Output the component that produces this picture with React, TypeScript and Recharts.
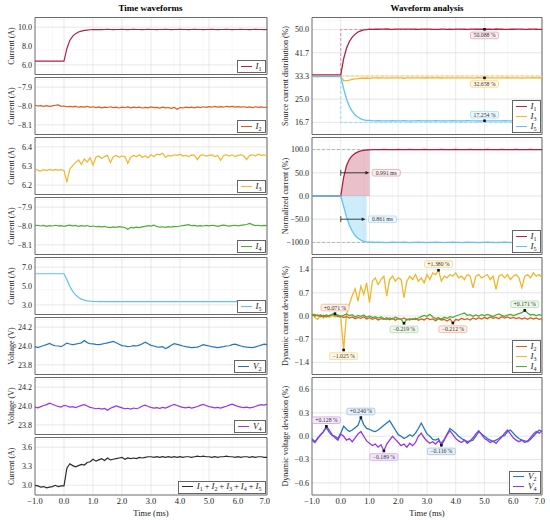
import React from 'react'
import { ComposedChart, Line, Area, XAxis, YAxis, CartesianGrid, ReferenceArea, ReferenceLine, ReferenceDot } from 'recharts'

const FONT = '"Liberation Serif", "DejaVu Serif", serif'

// sample times in ms, every 0.1 ms from -1.0 to 7.0
const TIME = Array.from({ length: 81 }, (_, i) => (i - 10) / 10)

// measured currents (A)
const I1 = [
  6.40, 6.40, 6.40, 6.40, 6.40, 6.40, 6.40, 6.40, 6.40, 6.40, 6.40,
  7.74, 8.58, 9.05, 9.31, 9.48, 9.58, 9.65, 9.69, 9.72, 9.73,
  9.74, 9.75, 9.74, 9.75, 9.76, 9.75, 9.74, 9.75, 9.75, 9.76,
  9.75, 9.74, 9.75, 9.76, 9.75, 9.75, 9.74, 9.75, 9.76, 9.75,
  9.75, 9.74, 9.75, 9.75, 9.76, 9.75, 9.74, 9.75, 9.75, 9.76,
  9.75, 9.75, 9.74, 9.75, 9.76, 9.75, 9.75, 9.74, 9.75, 9.75,
  9.76, 9.75, 9.74, 9.75, 9.75, 9.76, 9.75, 9.74, 9.75, 9.75,
  9.76, 9.75, 9.75, 9.74, 9.75, 9.76, 9.75, 9.75, 9.74, 9.75,
]
const I5 = [
  6.30, 6.30, 6.30, 6.30, 6.30, 6.30, 6.30, 6.30, 6.30, 6.30, 6.30,
  5.65, 4.97, 4.44, 4.06, 3.79, 3.61, 3.50, 3.42, 3.39, 3.37,
  3.36, 3.35, 3.36, 3.35, 3.35, 3.34, 3.35, 3.36, 3.35, 3.35,
  3.35, 3.36, 3.35, 3.34, 3.35, 3.35, 3.36, 3.35, 3.35, 3.34,
  3.35, 3.35, 3.36, 3.35, 3.35, 3.34, 3.35, 3.35, 3.36, 3.35,
  3.35, 3.34, 3.35, 3.36, 3.35, 3.35, 3.35, 3.34, 3.35, 3.35,
  3.36, 3.35, 3.35, 3.34, 3.35, 3.35, 3.36, 3.35, 3.35, 3.35,
  3.34, 3.35, 3.36, 3.35, 3.35, 3.35, 3.34, 3.35, 3.35, 3.36,
]
const ISUM = [
  3.00, 2.99, 2.97, 2.98, 2.96, 2.97, 2.98, 3.00, 2.98, 2.99, 2.99,
  3.27, 3.34, 3.31, 3.29, 3.31, 3.33, 3.32, 3.36, 3.37, 3.41,
  3.38, 3.40, 3.42, 3.39, 3.43, 3.40, 3.41, 3.42, 3.43, 3.44,
  3.41, 3.43, 3.42, 3.43, 3.42, 3.44, 3.43, 3.44, 3.45, 3.45,
  3.44, 3.45, 3.44, 3.45, 3.44, 3.45, 3.44, 3.45, 3.44, 3.45,
  3.44, 3.45, 3.45, 3.44, 3.45, 3.46, 3.45, 3.46, 3.45, 3.45,
  3.44, 3.45, 3.44, 3.45, 3.45, 3.46, 3.45, 3.45, 3.44, 3.45,
  3.44, 3.45, 3.45, 3.44, 3.45, 3.44, 3.45, 3.45, 3.44, 3.44,
]

// dynamic deviations (%) from the pre-step value
const D2 = [
  0.05, 0.00, 0.03, -0.02, 0.02, -0.03, 0.01, 0.05, 0.071, -0.02, 0.00,
  -0.05, -0.02, -0.06, -0.03, -0.08, -0.04, -0.07, -0.02, -0.09, -0.05,
  -0.10, -0.06, -0.12, -0.08, -0.10, -0.05, -0.11, -0.07, -0.13, -0.08,
  -0.10, -0.06, -0.12, -0.08, -0.11, -0.07, -0.13, -0.09, -0.12, -0.06,
  -0.11, -0.09, -0.14, -0.08, -0.12, -0.10, -0.15, -0.09, -0.212, -0.10,
  -0.13, -0.07, -0.11, -0.08, -0.12, -0.06, -0.10, -0.05, -0.09, -0.04,
  -0.08, -0.03, -0.07, -0.04, -0.08, -0.02, -0.06, -0.03, -0.07, -0.04,
  -0.08, -0.05, -0.09, -0.06, -0.10, -0.05, -0.09, -0.06, -0.10, -0.08,
]
const D3 = [
  0.12, -0.05, -0.10, 0.02, -0.06, 0.03, -0.04, 0.02, -0.03, 0.01, -0.05,
  -1.025, 0.05, 0.35, 0.62, 0.82, 0.45, 0.90, 0.65, 1.00, 0.40,
  1.05, 1.15, 0.95, 1.10, 1.20, 0.60, 1.10, 1.20, 1.05, 1.15,
  1.10, 0.55, 1.05, 1.20, 1.10, 1.25, 1.05, 1.15, 1.00, 1.25,
  1.10, 1.30, 1.25, 1.38, 1.05, 1.20, 1.15, 1.25, 1.20, 1.30,
  1.15, 1.20, 1.10, 1.25, 1.20, 0.85, 1.20, 1.25, 1.15, 1.20,
  1.25, 1.10, 1.20, 0.80, 1.20, 1.25, 1.15, 1.25, 1.10, 1.20,
  1.25, 1.15, 0.85, 1.20, 1.25, 1.15, 1.30, 1.20, 1.25, 1.15,
]
const D4 = [
  0.02, 0.05, 0.00, 0.04, -0.02, 0.03, 0.00, 0.05, 0.01, 0.03, -0.02,
  0.02, 0.06, 0.01, 0.04, -0.03, 0.02, -0.01, 0.03, -0.04, 0.00,
  -0.05, -0.02, -0.06, -0.03, -0.08, -0.11, -0.06, -0.09, -0.04, -0.07,
  -0.10, -0.219, -0.09, -0.12, -0.08, -0.11, -0.06, -0.02, 0.02, -0.01,
  0.05, -0.03, -0.08, -0.05, -0.09, -0.04, -0.07, -0.02, -0.05, 0.00,
  0.03, 0.06, 0.09, 0.02, 0.04, -0.01, 0.03, 0.00, 0.04, 0.01,
  0.05, 0.02, -0.02, 0.03, 0.06, 0.02, -0.01, 0.03, 0.05, 0.01,
  0.04, 0.07, 0.10, 0.171, 0.09, 0.03, 0.05, 0.01, 0.04, 0.02,
]
const DV2 = [
  -0.03, -0.07, -0.02, 0.02, 0.06, 0.11, 0.05, 0.01, 0.00, -0.03, 0.04,
  0.13, 0.09, 0.06, 0.08, 0.11, 0.14, 0.240, 0.15, 0.10, 0.09,
  0.07, 0.06, 0.08, 0.11, 0.14, 0.17, 0.20, 0.14, 0.08, 0.02,
  0.00, -0.03, -0.01, 0.02, 0.00, 0.04, 0.10, 0.17, 0.10, 0.03,
  0.00, -0.04, -0.05, -0.03, -0.116, -0.05, 0.03, 0.10, 0.07, 0.04,
  0.00, -0.03, -0.05, -0.07, -0.06, -0.05, 0.00, 0.06, 0.03, 0.00,
  -0.03, -0.05, -0.07, -0.05, -0.03, 0.00, 0.01, 0.06, 0.08, 0.04,
  0.00, -0.03, -0.05, -0.06, -0.07, -0.04, 0.00, 0.04, 0.08, 0.06,
]
const DV4 = [
  -0.05, -0.08, -0.03, 0.02, 0.06, 0.128, 0.08, 0.02, -0.02, -0.05, 0.03,
  0.00, -0.05, -0.03, -0.07, -0.02, 0.03, 0.06, 0.00, -0.06, -0.09,
  -0.12, -0.10, -0.14, -0.11, -0.189, -0.10, -0.05, 0.00, -0.04, -0.08,
  -0.12, -0.10, -0.14, -0.09, -0.12, -0.08, 0.00, 0.04, -0.02, -0.06,
  -0.09, -0.07, -0.10, -0.06, -0.09, -0.04, 0.02, 0.07, 0.02, -0.03,
  -0.06, -0.08, -0.05, -0.09, -0.06, -0.02, 0.03, 0.07, 0.02, -0.03,
  -0.05, -0.08, -0.06, -0.09, -0.05, -0.01, 0.04, 0.08, 0.03, -0.02,
  -0.05, -0.07, -0.05, -0.08, -0.06, -0.02, 0.03, 0.06, 0.04, 0.07,
]

// reference levels
const I1_PRE = 6.40
const I1_POST = 9.75
const I5_PRE = 6.30
const I5_POST = 3.35
const I2_REF = -8.0
const I3_REF = 6.28
const I4_REF = -8.0
const V_REF = 24.0

// ideal source-sharing steps (%)
const IDEAL_T = [0, 0, 7]
const IDEAL_I1 = [33.333, 50, 50]
const IDEAL_I3 = [33.333, 33.333, 33.333]
const IDEAL_I5 = [33.333, 16.667, 16.667]

// annotated values
const SHARE_T = 5.0
const SHARE_VALUES = [50.088, 32.658, 17.254]
const SETTLE_I1 = 0.991
const SETTLE_I5 = 0.861
const CUR_MARKS = [
  { t: -0.2, v: 0.071, s: 'i2' },
  { t: 0.1, v: -1.025, s: 'i3' },
  { t: 3.4, v: 1.38, s: 'i3' },
  { t: 2.2, v: -0.219, s: 'i4' },
  { t: 3.9, v: -0.212, s: 'i2' },
  { t: 6.4, v: 0.171, s: 'i4' },
]
const VOLT_MARKS = [
  { t: -0.5, v: 0.128, s: 'v4' },
  { t: 0.7, v: 0.24, s: 'v2' },
  { t: 1.5, v: -0.189, s: 'v4' },
  { t: 3.5, v: -0.116, s: 'v2' },
]

const X_TICKS = [-1, 0, 1, 2, 3, 4, 5, 6, 7]
const X_MINOR = Array.from({ length: 41 }, (_, i) => -1 + i * 0.2)

const COLORS: any = {
  i1: '#b2213f', i2: '#e2581e', i3: '#f1b62a', i4: '#4cae35', i5: '#5ec3f2',
  v2: '#1f77c4', v4: '#9a33e6', sum: '#2b2b2b',
}
const TINT: any = {
  i1: '#fbeef0', i2: '#fdf0e9', i3: '#fff8e6', i4: '#eef8eb', i5: '#eaf7fd', v2: '#e8f1fa', v4: '#f5eafd',
}
const EDGE: any = {
  i1: '#e49aa8', i2: '#f2aa85', i3: '#f6d27a', i4: '#a5d898', i5: '#9ad9f5', v2: '#8dbde6', v4: '#cb95f0',
}

const ROWS = TIME.map((t, i) => {
  const i3 = I3_REF * (1 + D3[i] / 100)
  const total = I1[i] + i3 + I5[i]
  return {
    t,
    i1: I1[i],
    i2: I2_REF + Math.abs(I2_REF) * D2[i] / 100,
    i3,
    i4: I4_REF + Math.abs(I4_REF) * D4[i] / 100,
    i5: I5[i],
    v2: V_REF * (1 + DV2[i] / 100),
    v4: V_REF * (1 + DV4[i] / 100),
    sum: ISUM[i],
    s1: (I1[i] / total) * 100,
    s3: (i3 / total) * 100,
    s5: (I5[i] / total) * 100,
    n1: ((I1[i] - I1_PRE) / (I1_POST - I1_PRE)) * 100,
    n5: ((I5[i] - I5_PRE) / (I5_PRE - I5_POST)) * 100,
    d2: D2[i], d3: D3[i], d4: D4[i], dv2: DV2[i], dv4: DV4[i],
  }
})
const idealRows = (vals: number[]) => IDEAL_T.map((t, i) => ({ t, v: vals[i] }))
const FILL_I1 = ROWS.filter(r => r.t >= 0 && r.t <= 1.0)
const FILL_I5 = ROWS.filter(r => r.t >= 0 && r.t <= 0.9)

const fmt = (v: number) => (v < -1e-9 ? '\u2212' : '') + Math.abs(v).toFixed(1)
const pct = (v: number) => (v > 0 ? '+' : '\u2212') + Math.abs(v).toFixed(3) + '\u2009%'

function Ann({ cx, cy, text, s, below }: any) {
  const w = text.length * 3.0 + 4
  const h = 6.6
  const by = below ? cy + 2.8 : cy - 2.8 - h
  return (
    <g>
      <rect x={cx - 1.3} y={cy - 1.3} width={2.6} height={2.6} fill="#111" />
      <rect x={cx - w / 2} y={by} width={w} height={h} rx={1.5} fill={TINT[s]} stroke={EDGE[s]} strokeWidth={0.7} />
      <text x={cx} y={by + h / 2 + 2} textAnchor="middle" fontSize={5.8} fill="#333" fontFamily={FONT}>{text}</text>
    </g>
  )
}

function arrowShape(text: string, s: string) {
  return (p: any) => {
    const { x1, y1, x2 } = p
    const bw = text.length * 3.0 + 4
    const bh = 6.6
    return (
      <g>
        <line x1={x1} y1={y1 - 3} x2={x1} y2={y1 + 3} stroke="#222" strokeWidth={0.8} />
        <line x1={x1} y1={y1} x2={x2 - 3} y2={y1} stroke="#222" strokeWidth={0.8} />
        <polygon points={`${x2},${y1} ${x2 - 3.8},${y1 - 1.7} ${x2 - 3.8},${y1 + 1.7}`} fill="#222" />
        <rect x={x2 + 3} y={y1 - bh / 2} width={bw} height={bh} rx={1.5} fill={TINT[s]} stroke={EDGE[s]} strokeWidth={0.7} />
        <text x={x2 + 3 + bw / 2} y={y1 + 2} textAnchor="middle" fontSize={5.8} fill="#333" fontFamily={FONT}>{text}</text>
      </g>
    )
  }
}

function Sym({ label }: { label: string }) {
  const parts = label.split(/([A-Z]\d)/).filter(Boolean)
  return (
    <span>
      {parts.map((p, k) =>
        /^[A-Z]\d$/.test(p) ? (
          <span key={k}>
            <i>{p[0]}</i>
            <span style={{ fontSize: 6, position: 'relative', top: 2 }}>{p[1]}</span>
          </span>
        ) : (
          <span key={k}>{p.replace(/\+/g, '\u2009+\u2009')}</span>
        ),
      )}
    </span>
  )
}

function LegendBox({ items, right, bottom }: any) {
  return (
    <div style={{ position: 'absolute', right, bottom, background: '#fff', border: '1px solid #666', padding: '0px 3px 1px', fontFamily: FONT }}>
      {items.map((it: any) => (
        <div key={it.label} style={{ display: 'flex', alignItems: 'center', height: 10 }}>
          <span style={{ display: 'inline-block', width: 11, borderTop: `1.8px solid ${it.color}`, marginRight: 4 }} />
          <span style={{ fontSize: 9, lineHeight: '10px', whiteSpace: 'nowrap', color: '#222' }}>
            <Sym label={it.label} />
          </span>
        </div>
      ))}
    </div>
  )
}

function Panel({ left, top, height, axisW, labelOffset, domain, ticks, label, showX, legend, children }: any) {
  const W = 270
  const R = 3
  const xh = showX ? 26 : 0
  const step = (ticks[1] - ticks[0]) / 5
  const minorY: number[] = []
  for (let k = -10; k <= (ticks.length - 1) * 5 + 10; k++) {
    const v = ticks[0] + k * step
    if (v > domain[0] && v < domain[1]) minorY.push(v)
  }
  const H = height + 1 + (showX ? xh : 1)
  return (
    <div style={{ position: 'absolute', left, top: top - 1, width: W, height: H }}>
      <ComposedChart width={W} height={H} data={ROWS} margin={{ top: 0.5, right: R, bottom: showX ? 0 : 1.5, left: 0 }}>
        <CartesianGrid verticalValues={X_MINOR} horizontalValues={minorY} stroke="#f0f0f0" strokeWidth={0.5} />
        <CartesianGrid verticalValues={X_TICKS} horizontalValues={ticks} stroke="#dadada" strokeWidth={0.6} />
        <XAxis
          type="number" dataKey="t" domain={[-1, 7]} ticks={X_TICKS} hide={!showX} height={xh}
          tickFormatter={fmt} tickLine={false} axisLine={false} tickSize={0} tickMargin={3}
          tick={{ fontSize: 8.5, fill: '#222' }}
          label={{ value: 'Time (ms)', position: 'insideBottom', offset: 5, style: { fontSize: 8.5, fill: '#222' } }}
        />
        <YAxis
          type="number" domain={domain} ticks={ticks} width={axisW} allowDataOverflow
          tickFormatter={fmt} tickLine={false} axisLine={false} tickSize={0} tickMargin={3}
          tick={{ fontSize: 8, fill: '#222' }}
          label={{ value: label, angle: -90, position: 'insideLeft', offset: labelOffset, style: { textAnchor: 'middle', fontSize: 8, fill: '#222' } }}
        />
        {children}
        <ReferenceArea x1={-1} x2={7} y1={domain[0]} y2={domain[1]} fill="none" stroke="#6a6a6a" strokeWidth={1} />
      </ComposedChart>
      {legend && <LegendBox items={legend} right={R + 1.5} bottom={(showX ? xh : 1.5) + 1.5} />}
    </div>
  )
}

const line = (key: string, color: string, w = 1.2) => (
  <Line key={key} dataKey={key} stroke={color} strokeWidth={w} dot={false} activeDot={false} isAnimationActive={false} />
)

const LEFT = { left: 0, axisW: 35, labelOffset: 11, height: 57 }
const RIGHT = { left: 275, axisW: 37, labelOffset: 10, height: 117 }

export default function App() {
  return (
    <div style={{ position: 'fixed', left: 0, top: 0, width: 550, height: 520, background: '#fff', fontFamily: FONT, overflow: 'hidden' }}>
      <div style={{ position: 'absolute', left: 35, width: 231, top: 3, textAlign: 'center', fontWeight: 'bold', fontSize: 9 }}>Time waveforms</div>
      <div style={{ position: 'absolute', left: 312, width: 230, top: 3, textAlign: 'center', fontWeight: 'bold', fontSize: 9 }}>Waveform analysis</div>

      <Panel {...LEFT} top={18} domain={[4.98, 11.02]} ticks={[6, 8, 10]} label="Current (A)" legend={[{ label: 'I1', color: COLORS.i1 }]}>
        {line('i1', COLORS.i1)}
      </Panel>
      <Panel {...LEFT} top={78} domain={[-8.151, -7.849]} ticks={[-8.1, -8.0, -7.9]} label="Current (A)" legend={[{ label: 'I2', color: COLORS.i2 }]}>
        {line('i2', COLORS.i2)}
      </Panel>
      <Panel {...LEFT} top={138} domain={[6.151, 6.449]} ticks={[6.2, 6.3, 6.4]} label="Current (A)" legend={[{ label: 'I3', color: COLORS.i3 }]}>
        {line('i3', COLORS.i3)}
      </Panel>
      <Panel {...LEFT} top={198} domain={[-8.151, -7.849]} ticks={[-8.1, -8.0, -7.9]} label="Current (A)" legend={[{ label: 'I4', color: COLORS.i4 }]}>
        {line('i4', COLORS.i4)}
      </Panel>
      <Panel {...LEFT} top={258} domain={[1.98, 8.02]} ticks={[3, 5, 7]} label="Current (A)" legend={[{ label: 'I5', color: COLORS.i5 }]}>
        {line('i5', COLORS.i5)}
      </Panel>
      <Panel {...LEFT} top={318} domain={[23.698, 24.302]} ticks={[23.8, 24.0, 24.2]} label="Voltage (V)" legend={[{ label: 'V2', color: COLORS.v2 }]}>
        {line('v2', COLORS.v2)}
      </Panel>
      <Panel {...LEFT} top={378} domain={[23.698, 24.302]} ticks={[23.8, 24.0, 24.2]} label="Voltage (V)" legend={[{ label: 'V4', color: COLORS.v4 }]}>
        {line('v4', COLORS.v4)}
      </Panel>
      <Panel {...LEFT} top={438} showX domain={[2.847, 3.753]} ticks={[3.0, 3.3, 3.6]} label="Current (A)" legend={[{ label: 'I1+I2+I3+I4+I5', color: COLORS.sum }]}>
        {line('sum', COLORS.sum)}
      </Panel>

      <Panel {...RIGHT} top={18} domain={[12.33, 54.33]} ticks={[16.667, 25, 33.333, 41.667, 50]} label="Source current distribution (%)"
        legend={[{ label: 'I1', color: COLORS.i1 }, { label: 'I3', color: COLORS.i3 }, { label: 'I5', color: COLORS.i5 }]}>
        <Line data={idealRows(IDEAL_I1)} dataKey="v" stroke="#e68a9b" strokeWidth={1} strokeDasharray="3 2" dot={false} activeDot={false} isAnimationActive={false} />
        <Line data={idealRows(IDEAL_I3)} dataKey="v" stroke="#f6cf6a" strokeWidth={1} strokeDasharray="3 2" dot={false} activeDot={false} isAnimationActive={false} />
        <Line data={idealRows(IDEAL_I5)} dataKey="v" stroke="#98d8f5" strokeWidth={1} strokeDasharray="3 2" dot={false} activeDot={false} isAnimationActive={false} />
        {line('s1', COLORS.i1, 1.3)}
        {line('s3', COLORS.i3, 1.3)}
        {line('s5', COLORS.i5, 1.3)}
        {SHARE_VALUES.map((v, k) => (
          <ReferenceDot key={k} x={SHARE_T} y={v} r={1.3}
            shape={(p: any) => <Ann cx={p.cx} cy={p.cy} text={v.toFixed(3) + '\u2009%'} s={['i1', 'i3', 'i5'][k]} below={k < 2} />} />
        ))}
      </Panel>

      <Panel {...RIGHT} top={138} domain={[-126, 126]} ticks={[-100, -50, 0, 50, 100]} label="Normalized current (%)"
        legend={[{ label: 'I1', color: COLORS.i1 }, { label: 'I5', color: COLORS.i5 }]}>
        <ReferenceLine y={100} stroke="#aaaaaa" strokeWidth={0.8} strokeDasharray="3 2" />
        <ReferenceLine y={-100} stroke="#aaaaaa" strokeWidth={0.8} strokeDasharray="3 2" />
        <Area data={FILL_I1} dataKey="n1" baseValue={0} stroke="none" fill={COLORS.i1} fillOpacity={0.28} isAnimationActive={false} />
        <Area data={FILL_I5} dataKey="n5" baseValue={0} stroke="none" fill={COLORS.i5} fillOpacity={0.3} isAnimationActive={false} />
        {line('n1', COLORS.i1, 1.3)}
        {line('n5', COLORS.i5, 1.3)}
        <ReferenceLine segment={[{ x: 0, y: 50 }, { x: SETTLE_I1, y: 50 }]} shape={arrowShape(SETTLE_I1.toFixed(3) + '\u2009ms', 'i1')} />
        <ReferenceLine segment={[{ x: 0, y: -50 }, { x: SETTLE_I5, y: -50 }]} shape={arrowShape(SETTLE_I5.toFixed(3) + '\u2009ms', 'i5')} />
      </Panel>

      <Panel {...RIGHT} top={258} domain={[-1.764, 1.764]} ticks={[-1.4, -0.7, 0, 0.7, 1.4]} label="Dynamic current deviation (%)"
        legend={[{ label: 'I2', color: COLORS.i2 }, { label: 'I3', color: COLORS.i3 }, { label: 'I4', color: COLORS.i4 }]}>
        {line('d3', COLORS.i3, 1.3)}
        {line('d2', COLORS.i2, 1.3)}
        {line('d4', COLORS.i4, 1.3)}
        {CUR_MARKS.map((m, k) => (
          <ReferenceDot key={k} x={m.t} y={m.v} r={1.3}
            shape={(p: any) => <Ann cx={p.cx} cy={p.cy} text={pct(m.v)} s={m.s} below={m.v < 0} />} />
        ))}
      </Panel>

      <Panel {...RIGHT} top={378} showX domain={[-0.756, 0.756]} ticks={[-0.6, -0.3, 0, 0.3, 0.6]} label="Dynamic voltage deviation (%)"
        legend={[{ label: 'V2', color: COLORS.v2 }, { label: 'V4', color: COLORS.v4 }]}>
        {line('dv2', COLORS.v2, 1.3)}
        {line('dv4', COLORS.v4, 1.3)}
        {VOLT_MARKS.map((m, k) => (
          <ReferenceDot key={k} x={m.t} y={m.v} r={1.3}
            shape={(p: any) => <Ann cx={p.cx} cy={p.cy} text={pct(m.v)} s={m.s} below={m.v < 0} />} />
        ))}
      </Panel>
    </div>
  )
}
